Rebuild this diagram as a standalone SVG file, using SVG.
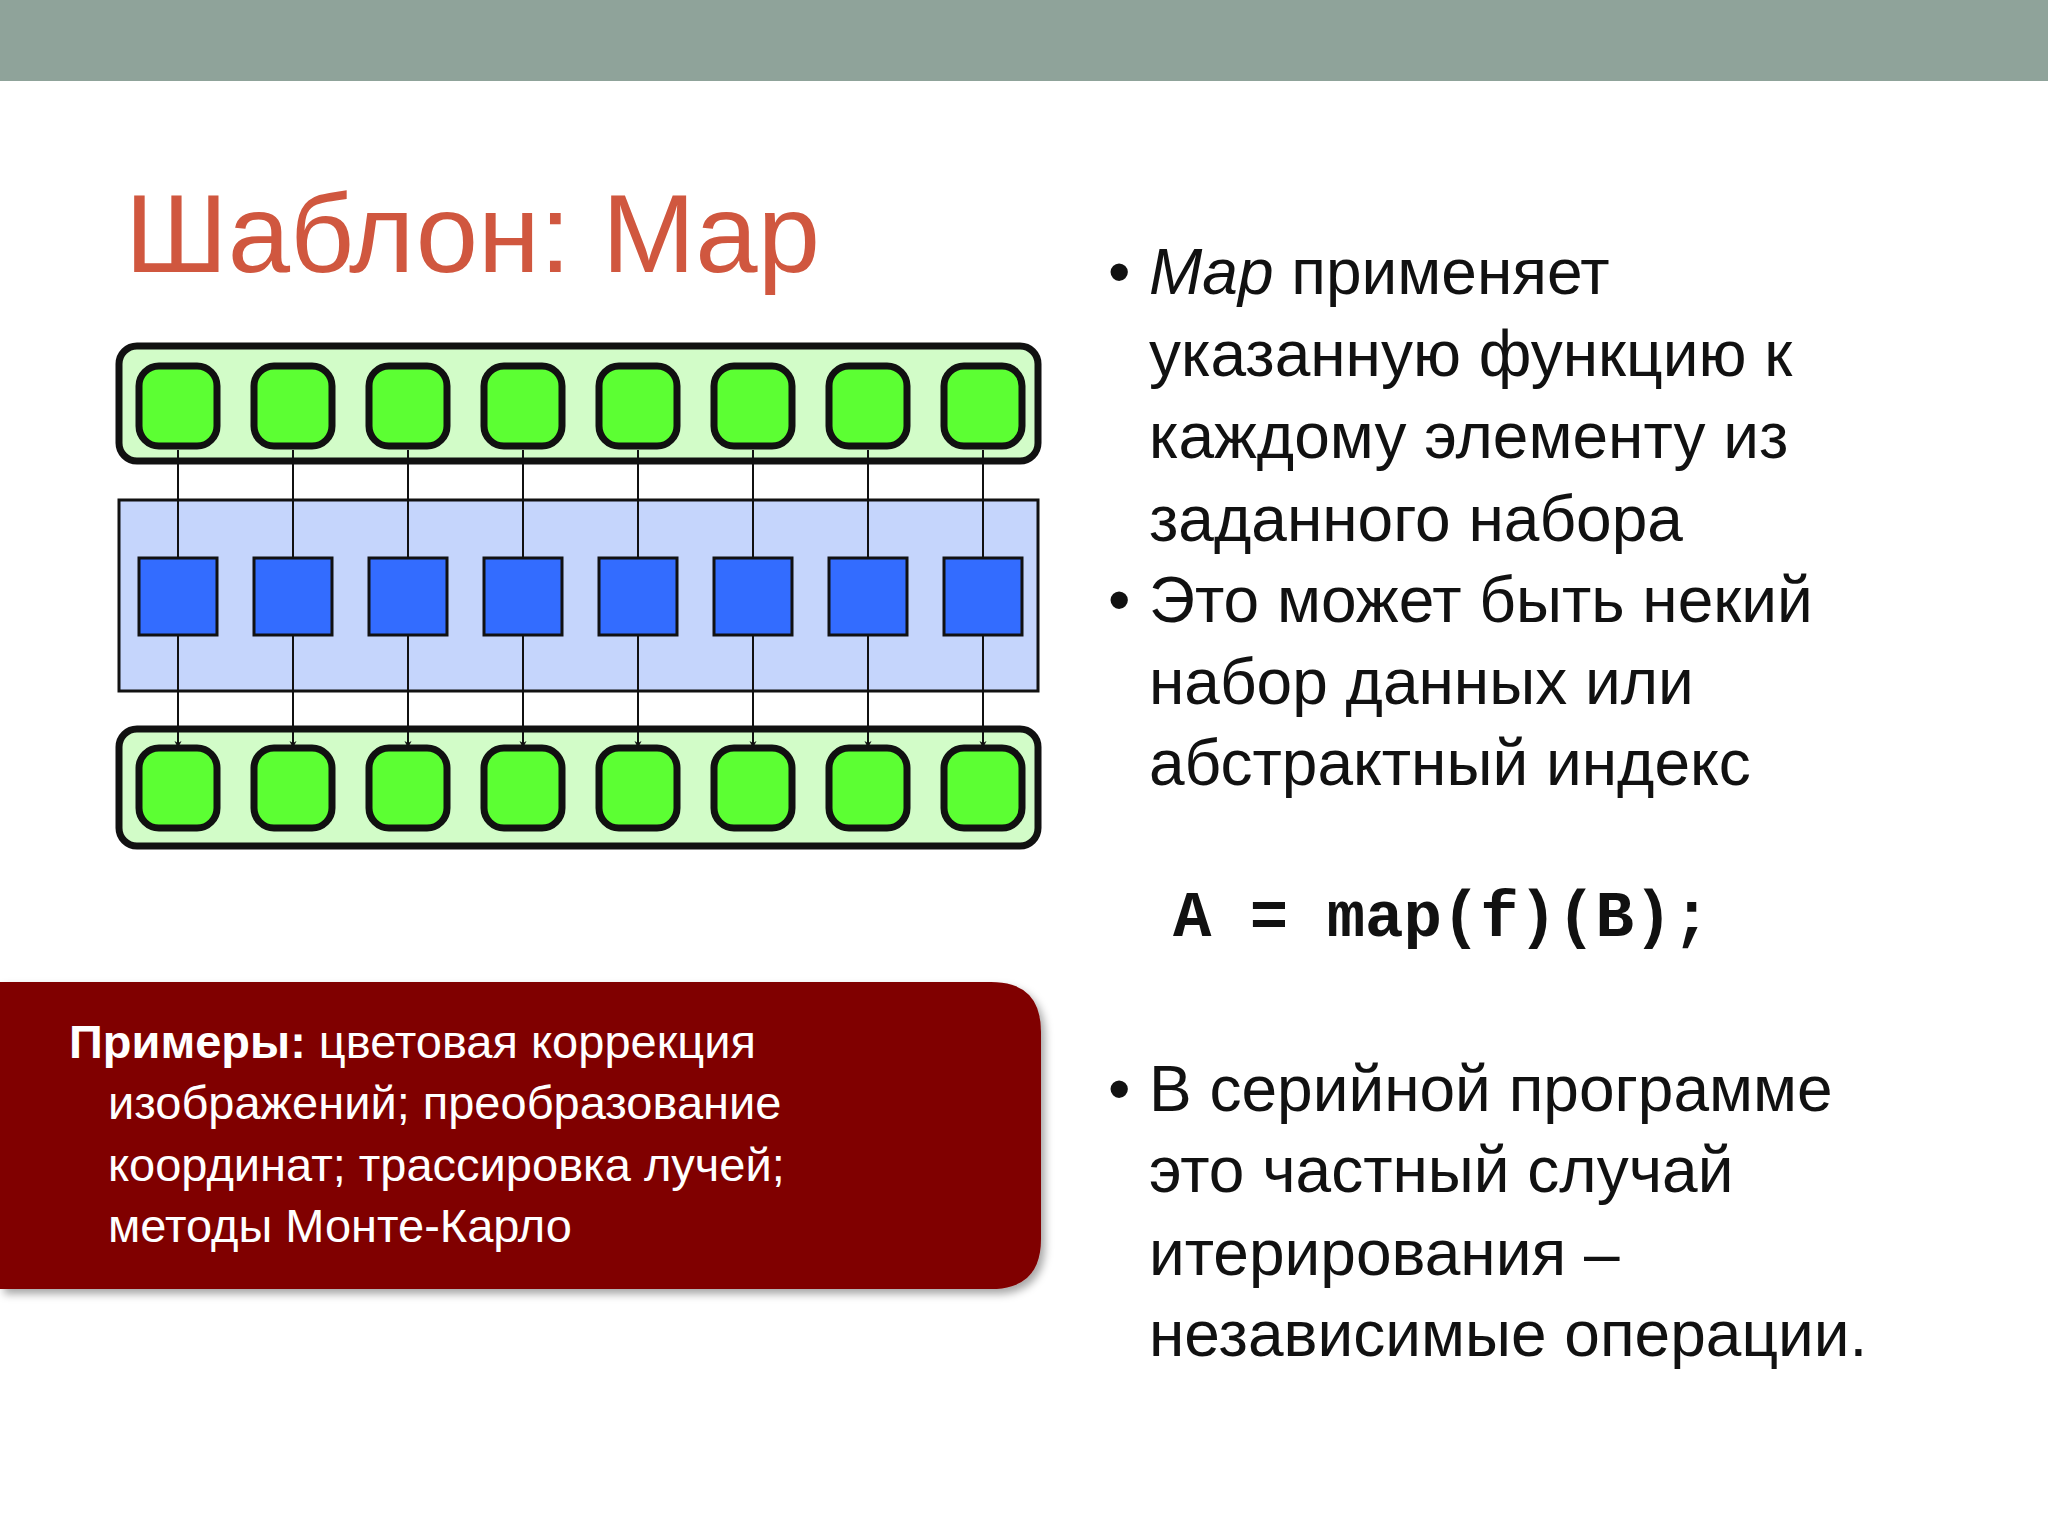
<svg xmlns="http://www.w3.org/2000/svg" width="2048" height="1536" viewBox="0 0 2048 1536">
<style>
.band{fill:#d2fcc8;stroke:#111;stroke-width:7}
.gn{fill:#5cff33;stroke:#111;stroke-width:7}
.bn{fill:#336cff;stroke:#111;stroke-width:3}
.ar{stroke:#111;stroke-width:2;fill:none;marker-end:url(#ah)}
.t{font-family:"Liberation Sans",Arial,sans-serif;font-size:64px;fill:#111}
.w{font-family:"Liberation Sans",Arial,sans-serif;font-size:47px;fill:#fff}
</style>
<defs>
<marker id="ah" viewBox="0 0 10 10" refX="10" refY="5" markerWidth="7" markerHeight="12" orient="auto" markerUnits="userSpaceOnUse"><path d="M0,0 L10,5 L0,10 L3,5 z" fill="#111"/></marker>
<filter id="sh" x="-5%" y="-5%" width="115%" height="120%"><feDropShadow dx="4" dy="5" stdDeviation="4" flood-color="#000" flood-opacity="0.35"/></filter>
</defs>
<rect width="2048" height="1536" fill="#fff"/>
<rect x="0" y="0" width="2048" height="81" fill="#8fa39a"/>
<text x="125" y="272" font-family="'Liberation Sans',Arial,sans-serif" font-size="112" fill="#d0573f">Шаблон: Map</text>

<g id="top-band"><rect class="band" x="119" y="346" width="919" height="115" rx="18"/></g>
<g id="mid-band"><rect x="119" y="500" width="919" height="191" fill="#c5d5fc" stroke="#111" stroke-width="3"/></g>
<g id="bottom-band"><rect class="band" x="119" y="729" width="919" height="117" rx="18"/></g>

<g id="top-nodes">
<rect class="gn" x="139" y="366" width="78" height="80" rx="20"/>
<rect class="gn" x="254" y="366" width="78" height="80" rx="20"/>
<rect class="gn" x="369" y="366" width="78" height="80" rx="20"/>
<rect class="gn" x="484" y="366" width="78" height="80" rx="20"/>
<rect class="gn" x="599" y="366" width="78" height="80" rx="20"/>
<rect class="gn" x="714" y="366" width="78" height="80" rx="20"/>
<rect class="gn" x="829" y="366" width="78" height="80" rx="20"/>
<rect class="gn" x="944" y="366" width="78" height="80" rx="20"/>
</g>
<g id="blue-nodes">
<rect class="bn" x="139" y="558" width="78" height="77"/>
<rect class="bn" x="254" y="558" width="78" height="77"/>
<rect class="bn" x="369" y="558" width="78" height="77"/>
<rect class="bn" x="484" y="558" width="78" height="77"/>
<rect class="bn" x="599" y="558" width="78" height="77"/>
<rect class="bn" x="714" y="558" width="78" height="77"/>
<rect class="bn" x="829" y="558" width="78" height="77"/>
<rect class="bn" x="944" y="558" width="78" height="77"/>
</g>
<g id="bottom-nodes">
<rect class="gn" x="139" y="748" width="78" height="80" rx="20"/>
<rect class="gn" x="254" y="748" width="78" height="80" rx="20"/>
<rect class="gn" x="369" y="748" width="78" height="80" rx="20"/>
<rect class="gn" x="484" y="748" width="78" height="80" rx="20"/>
<rect class="gn" x="599" y="748" width="78" height="80" rx="20"/>
<rect class="gn" x="714" y="748" width="78" height="80" rx="20"/>
<rect class="gn" x="829" y="748" width="78" height="80" rx="20"/>
<rect class="gn" x="944" y="748" width="78" height="80" rx="20"/>
</g>
<g id="connectors">
<path class="ar" d="M178,450 V558 M178,635 V748"/>
<path class="ar" d="M293,450 V558 M293,635 V748"/>
<path class="ar" d="M408,450 V558 M408,635 V748"/>
<path class="ar" d="M523,450 V558 M523,635 V748"/>
<path class="ar" d="M638,450 V558 M638,635 V748"/>
<path class="ar" d="M753,450 V558 M753,635 V748"/>
<path class="ar" d="M868,450 V558 M868,635 V748"/>
<path class="ar" d="M983,450 V558 M983,635 V748"/>
</g>

<g id="examples">
<path d="M0,982 H991 Q1041,982 1041,1032 V1239 Q1041,1289 991,1289 H0 Z" fill="#800000" filter="url(#sh)"/>
<text class="w" x="69" y="1058"><tspan font-weight="bold">Примеры:</tspan> цветовая коррекция</text>
<text class="w" x="108" y="1119">изображений; преобразование</text>
<text class="w" x="108" y="1181">координат; трассировка лучей;</text>
<text class="w" x="108" y="1242">методы Монте-Карло</text>
</g>

<g id="bullets">
<text class="t" x="1108" y="294">•</text>
<text class="t" x="1149" y="294"><tspan font-style="italic">Map</tspan> применяет</text>
<text class="t" x="1149" y="376">указанную функцию к</text>
<text class="t" x="1149" y="458">каждому элементу из</text>
<text class="t" x="1149" y="541">заданного набора</text>
<text class="t" x="1108" y="622">•</text>
<text class="t" x="1149" y="622">Это может быть некий</text>
<text class="t" x="1149" y="704">набор данных или</text>
<text class="t" x="1149" y="785">абстрактный индекс</text>
<text x="1173" y="936" font-family="'Liberation Mono','Courier New',monospace" font-weight="bold" font-size="64" fill="#111">A = map(f)(B);</text>
<text class="t" x="1108" y="1111">•</text>
<text class="t" x="1149" y="1111">В серийной программе</text>
<text class="t" x="1149" y="1192">это частный случай</text>
<text class="t" x="1149" y="1275">итерирования –</text>
<text class="t" x="1149" y="1356">независимые операции.</text>
</g>
</svg>
